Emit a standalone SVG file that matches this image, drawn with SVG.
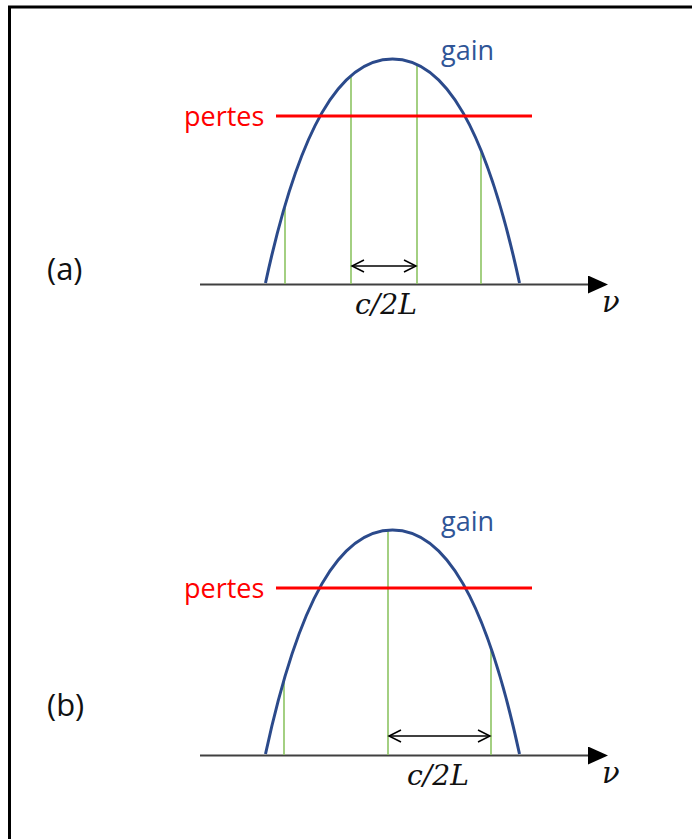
<svg xmlns="http://www.w3.org/2000/svg" width="692" height="839" viewBox="0 0 692 839">
<style>
.frame{fill:none;stroke:#000;stroke-width:3}
.gaincurve{fill:none;stroke:#2B4A8B;stroke-width:3}
.mode{stroke:#8DC463;stroke-width:1.6;fill:none}
.loss{stroke:#FF0000;stroke-width:3}
.axis{stroke:#404040;stroke-width:2;fill:none}
.span{stroke:#000;stroke-width:1.5;fill:none}
.lbl{font-family:"Open Sans","Liberation Sans",sans-serif;font-size:27px}
.gaintxt{fill:#2F5597}
.losstxt{fill:#FF0000}
.panel{fill:#111;font-size:31px}
.math{font-family:"DejaVu Serif","Liberation Serif",serif;font-style:italic;font-size:28px;fill:#111}
.nu{font-size:29px}
</style>
<defs>
<marker id="axhead" markerUnits="userSpaceOnUse" markerWidth="20" markerHeight="18" refX="4" refY="9" orient="auto" viewBox="0 0 20 18">
<path d="M0,0 L20,9 L0,18 Z" fill="#000"/>
</marker>
<marker id="chev" markerUnits="userSpaceOnUse" markerWidth="16" markerHeight="16" refX="13" refY="7" orient="auto-start-reverse" viewBox="0 0 16 16">
<path d="M1,1 L13,7 L1,13" fill="none" stroke="#000" stroke-width="1.5"/>
</marker>
<path id="gc" d="M265.5,283 C299,128 340,59 392.5,59 C445,59 486,128 519.5,283"/>
</defs>
<rect width="692" height="839" fill="#fff"/>
<path class="frame" d="M9.5,839 V7 H692"/>

<g id="panel-a">
<g id="axis-a"><path class="axis" d="M200,284.5 H592" marker-end="url(#axhead)"/>
<text class="math nu" x="602" y="312">ν</text></g>
<g id="modes-a">
<line class="mode" x1="285" y1="284" x2="285" y2="208"/>
<line class="mode" x1="351" y1="284" x2="351" y2="76"/>
<line class="mode" x1="417" y1="284" x2="417" y2="64.5"/>
<line class="mode" x1="481" y1="284" x2="481" y2="150"/>
</g>
<g id="gain-a"><use href="#gc" class="gaincurve"/>
<text class="lbl gaintxt" x="441" y="60">gain</text></g>
<g id="loss-a"><line class="loss" x1="276" y1="116" x2="532" y2="116"/>
<text class="lbl losstxt" x="184" y="126">pertes</text></g>
<text class="lbl panel" x="47" y="280">(a)</text>
<text class="math" x="355" y="314" textLength="62" lengthAdjust="spacingAndGlyphs">c/2L</text>
</g>

<g id="panel-b">
<g id="axis-b"><path class="axis" d="M200,755.5 H592" marker-end="url(#axhead)"/>
<text class="math nu" x="602" y="783">ν</text></g>
<g id="modes-b">
<line class="mode" x1="284" y1="755" x2="284" y2="678"/>
<line class="mode" x1="388" y1="755" x2="388" y2="530"/>
<line class="mode" x1="491" y1="755" x2="491" y2="647"/>
</g>
<g id="gain-b"><use href="#gc" class="gaincurve" transform="translate(0,471)"/>
<text class="lbl gaintxt" x="441" y="531">gain</text></g>
<g id="loss-b"><line class="loss" x1="276" y1="588" x2="532" y2="588"/>
<text class="lbl losstxt" x="184" y="598">pertes</text></g>
<text class="lbl panel" x="47" y="716">(b)</text>
<text class="math" x="407" y="785" textLength="62" lengthAdjust="spacingAndGlyphs">c/2L</text>
</g>

<g id="connectors">
<line class="span" x1="352" y1="266" x2="416" y2="266" marker-start="url(#chev)" marker-end="url(#chev)"/>
<line class="span" x1="389" y1="736" x2="490" y2="736" marker-start="url(#chev)" marker-end="url(#chev)"/>
</g>
</svg>
